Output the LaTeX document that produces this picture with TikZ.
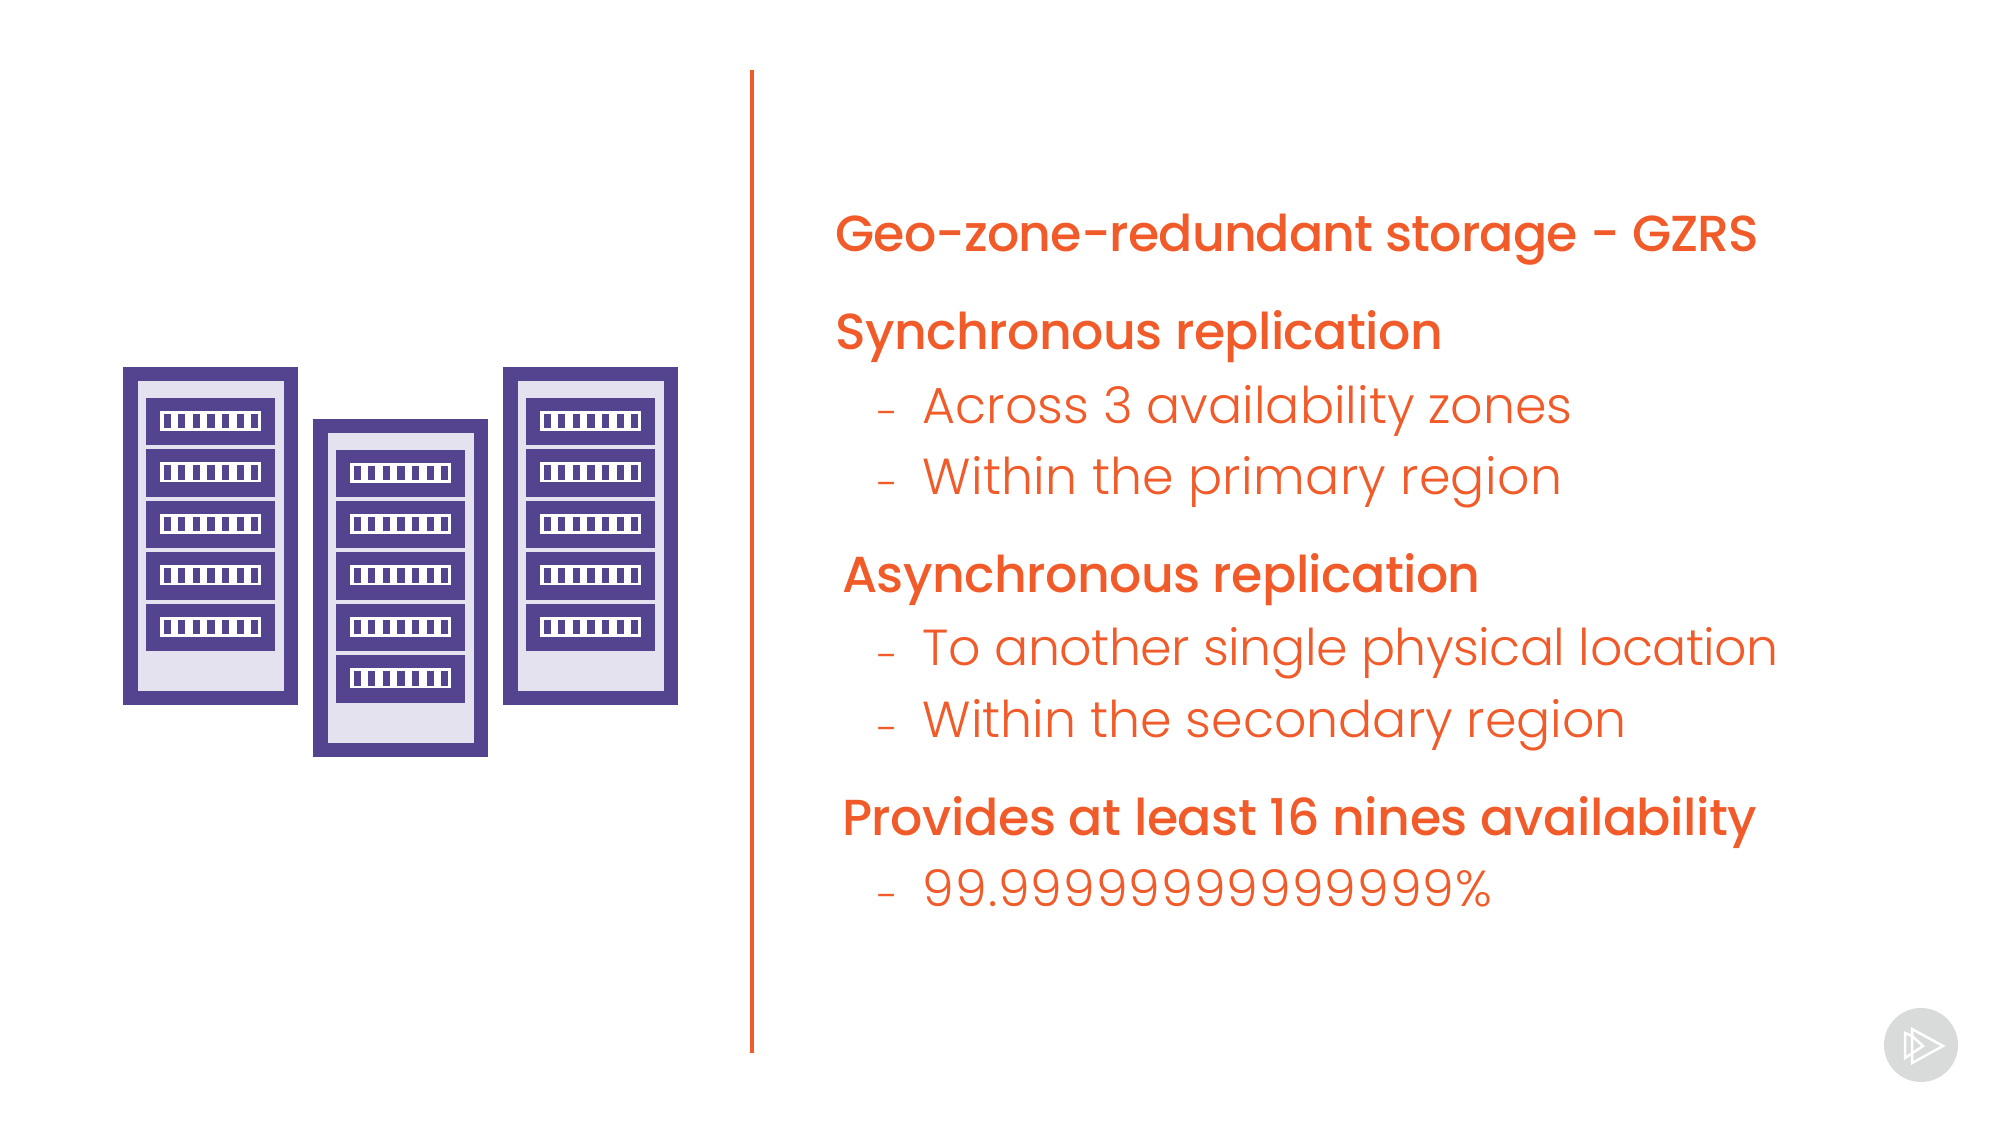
\documentclass[tikz,border=0pt]{standalone}
\usepackage{fontspec}
\setmainfont{Poppins}[UprightFont=*-Light,BoldFont=*-Medium]
\definecolor{pforange}{HTML}{F15B2A}
\definecolor{pfpurple}{HTML}{54448F}
\definecolor{pflight}{HTML}{E4E2EF}
\definecolor{pfgrey}{HTML}{D9DADA}
\tikzset{
    heading/.style={anchor=base west, inner sep=0pt, text=pforange, font=\fontsize{14.4pt}{17pt}\bfseries\addfontfeature{LetterSpace=-1.2}},
    item/.style={anchor=base west, inner sep=0pt, text=pforange, font=\fontsize{14.4pt}{17pt}\selectfont},
    dashmark/.style={anchor=base west, inner sep=0pt, text=pforange, font=\fontsize{11.5pt}{14pt}\selectfont},
}
\begin{document}
\begin{tikzpicture}[x=0.01cm, y=-0.01cm]
        \useasboundingbox (0,0) rectangle (2000,1125);

        % Three server racks
        \foreach \name/\dx/\dy in {left/0/0, mid/190/51.6, right/380/0} {
            \begin{scope}[shift={(\dx,\dy)}]
                \fill[pfpurple] (123,367) rectangle (297.5,705);
                \fill[pflight] (137.5,381) rectangle (284,691);
                \foreach \i in {0,...,4} {
                    \fill[pfpurple] (146,398+51.4*\i) rectangle (275,445.5+51.4*\i);
                    \fill[white] (160,411+51.4*\i) rectangle (261,431+51.4*\i);
                    \foreach \j in {0,...,6} {
                        \fill[pfpurple] (163.5+14.6*\j,414+51.4*\i) rectangle (170.7+14.6*\j,428.5+51.4*\i);
                    }
                }
            \end{scope}
        }

        % Divider
        \coordinate (top) at (752,70);
        \coordinate (bottom) at (752,1052.5);
        \draw[pforange, line width=1.2pt] (top) -- (bottom);

        % Text
        \node[heading] (title) at (835,252) {\addfontfeature{LetterSpace=-1.8}Geo-zone-redundant storage - GZRS};
        \node[heading] (sync) at (835,350) {Synchronous replication};
        \node[dashmark] (dasha) at (876.5,428) {-};
        \node[item] (zones) at (922,423.5) {Across 3 availability zones};
        \node[dashmark] (dashb) at (876.5,499) {-};
        \node[item] (primary) at (922,494.5) {\addfontfeature{LetterSpace=0.6}Within the primary region};
        \node[heading] (async) at (841.5,593) {Asynchronous replication};
        \node[dashmark] (dashc) at (876.5,671) {-};
        \node[item] (location) at (922,666) {\addfontfeature{LetterSpace=-1}To another single physical location};
        \node[dashmark] (dashd) at (876.5,743) {-};
        \node[item] (secondary) at (922,738) {Within the secondary region};
        \node[heading] (nines) at (841.5,835) {\addfontfeature{LetterSpace=-0.9}Provides at least 16 nines availability};
        \node[dashmark] (dashe) at (876.5,910.5) {-};
        \node[item] (percent) at (922,906) {\addfontfeature{LetterSpace=2}99.99999999999999\%};

        % Play badge
        \fill[pfgrey] (1921,1045) circle (37);
        \draw[white, line width=0.7pt] (1912,1029) -- (1943,1046) -- (1912,1063) -- cycle;
        \draw[white, line width=0.7pt] (1912,1036) -- (1905,1033) -- (1905,1058) -- (1923,1046) -- (1912,1036);
    \end{tikzpicture}
\end{document}
